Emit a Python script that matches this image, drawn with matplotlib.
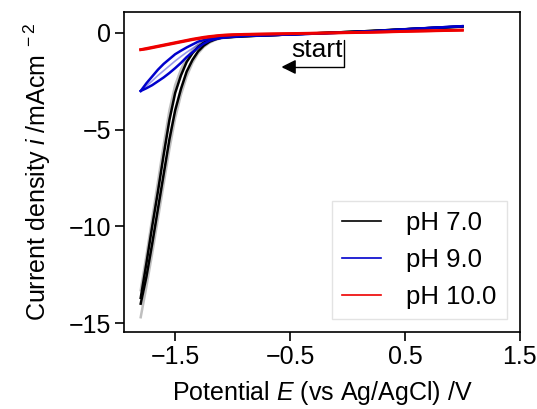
import matplotlib
matplotlib.use('Agg')
import matplotlib.pyplot as plt
from matplotlib.lines import Line2D

plt.rcParams['font.family'] = ['Liberation Sans', 'DejaVu Sans']
plt.rcParams['mathtext.fontset'] = 'custom'
plt.rcParams['mathtext.it'] = 'Liberation Sans:italic'
plt.rcParams['mathtext.rm'] = 'Liberation Sans'

# potential grid (V vs Ag/AgCl)
E = [1.0, 0.6, 0.2, -0.2, -0.6, -0.9, -1.0, -1.1, -1.15, -1.2, -1.25, -1.3,
     -1.35, -1.4, -1.45, -1.5, -1.55, -1.6, -1.65, -1.7, -1.75, -1.8]

# pH 7.0 (two branches + faint extra cycles)
ph7_a = [0.33, 0.22, 0.10, 0.0, -0.10, -0.17, -0.20, -0.22, -0.28, -0.36, -0.50, -0.72,
         -1.05, -1.50, -2.20, -3.10, -4.50, -6.30, -8.20, -10.0, -11.9, -13.7]
ph7_b = [0.33, 0.22, 0.10, 0.0, -0.10, -0.17, -0.21, -0.25, -0.33, -0.45, -0.65, -0.95,
         -1.40, -2.00, -2.90, -4.00, -5.50, -7.30, -9.10, -10.9, -12.6, -14.0]
ph7_c = [0.34, 0.23, 0.10, 0.0, -0.10, -0.18, -0.22, -0.27, -0.36, -0.50, -0.72, -1.05,
         -1.55, -2.25, -3.20, -4.40, -6.00, -7.80, -9.60, -11.4, -13.1, -14.7]
ph7_d = [0.32, 0.21, 0.09, 0.0, -0.10, -0.16, -0.19, -0.21, -0.26, -0.33, -0.45, -0.62,
         -0.90, -1.30, -1.90, -2.70, -4.00, -5.80, -7.70, -9.60, -11.5, -13.3]

# pH 9.0 (loop)
ph9_a = [0.35, 0.22, 0.08, -0.02, -0.10, -0.15, -0.18, -0.22, -0.25, -0.30, -0.37, -0.45,
         -0.60, -0.75, -0.92, -1.10, -1.35, -1.60, -1.90, -2.25, -2.60, -3.00]
ph9_b = [0.35, 0.22, 0.08, -0.02, -0.10, -0.16, -0.20, -0.26, -0.32, -0.40, -0.55, -0.75,
         -1.00, -1.25, -1.55, -1.82, -2.07, -2.30, -2.50, -2.70, -2.86, -3.00]
ph9_c = [0.34, 0.21, 0.08, -0.02, -0.10, -0.15, -0.19, -0.24, -0.29, -0.35, -0.46, -0.60,
         -0.80, -1.00, -1.22, -1.45, -1.70, -1.95, -2.20, -2.48, -2.74, -3.00]

# pH 10.0
ph10_a = [0.15, 0.10, 0.04, 0.0, -0.04, -0.07, -0.09, -0.12, -0.15, -0.18, -0.22, -0.27,
          -0.32, -0.38, -0.44, -0.50, -0.56, -0.62, -0.68, -0.74, -0.80, -0.86]
ph10_b = [0.14, 0.09, 0.03, -0.01, -0.05, -0.08, -0.10, -0.13, -0.17, -0.21, -0.25, -0.30,
          -0.35, -0.41, -0.47, -0.53, -0.59, -0.65, -0.71, -0.77, -0.83, -0.87]

labels = ['pH 7.0', 'pH 9.0', 'pH 10.0']
colors = ['black', '#0000cc', '#ee0000']

fig = plt.figure(figsize=(5.37, 4.09), dpi=100)
ax = fig.add_axes([0.231, 0.188, 0.737, 0.783])

# faint cycles
ax.plot(E, ph7_c, color='gray', lw=1.8, alpha=0.5)
ax.plot(E, ph7_d, color='gray', lw=1.8, alpha=0.5)
ax.plot(E, ph9_c, color=colors[1], lw=1.2, alpha=0.4)

ax.plot(E, ph7_a, color=colors[0], lw=1.8)
ax.plot(E, ph7_b, color=colors[0], lw=1.8)
ax.plot(E, ph9_a, color=colors[1], lw=1.8)
ax.plot(E, ph9_b, color=colors[1], lw=1.8)
ax.plot(E, ph10_a, color=colors[2], lw=2.0)
ax.plot(E, ph10_b, color=colors[2], lw=2.0)

ax.set_xlim(-1.945, 1.5)
ax.set_ylim(-15.47, 1.09)
ax.set_xticks([-1.5, -0.5, 0.5, 1.5])
ax.set_xticklabels(['\u22121.5', '\u22120.5', '0.5', '1.5'])
ax.set_yticks([0, -5, -10, -15])
ax.set_yticklabels(['0', '\u22125', '\u221210', '\u221215'])
ax.tick_params(labelsize=18, width=1.2, length=6.5, pad=3)
for s in ax.spines.values():
    s.set_linewidth(1.2)

ax.set_xlabel('Potential $E$ (vs Ag/AgCl) /V', fontsize=18, labelpad=7)
ax.set_ylabel('Current density $i$ /mAcm$^{\\ -2}$', fontsize=18, labelpad=11)

# start marker
ax.annotate('', xy=(-0.6, -1.76), xytext=(-0.03, -0.2),
            arrowprops=dict(arrowstyle='-|>', color='black', lw=1,
                            mutation_scale=22,
                            connectionstyle='angle,angleA=-90,angleB=0,rad=0'))
ax.text(-0.49, -0.88, 'start', fontsize=19, va='center', ha='left')

handles = [Line2D([], [], color=c, lw=1.2) for c in colors]
leg = ax.legend(handles, labels, loc='lower right', fontsize=18.5,
                fancybox=False, edgecolor='#dddddd', handlelength=1.5,
                handletextpad=1.0, borderaxespad=0.5)

fig.savefig('out.png', dpi=100)
